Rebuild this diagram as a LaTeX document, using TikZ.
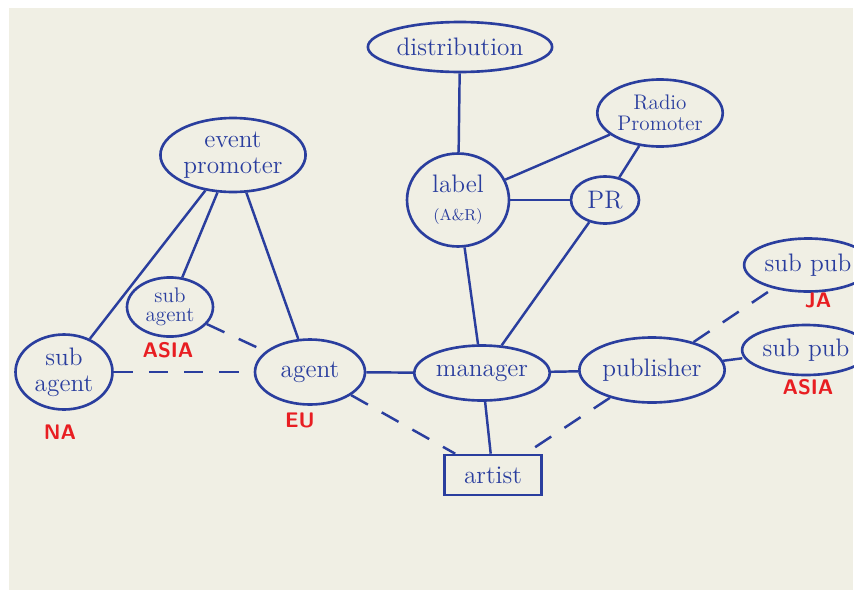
\documentclass[tikz,border=0pt]{standalone}
\usetikzlibrary{shapes.geometric}
\definecolor{ink}{RGB}{42,62,158}
\definecolor{marker}{RGB}{232,30,34}
\definecolor{board}{RGB}{240,239,228}
\tikzset{
  bubble/.style={ellipse, draw=ink, line width=1.5pt, text=ink, font=\Large, align=center, inner sep=1pt},
  boxed/.style={rectangle, draw=ink, line width=1.5pt, text=ink, font=\Large, inner sep=1pt},
  tag/.style={text=marker, font=\large\sffamily\bfseries},
  link/.style={draw=ink, line width=1.4pt},
  loose/.style={link, dash pattern=on 11pt off 9pt}
}
\begin{document}
\begin{tikzpicture}[x=0.02cm, y=0.02cm]
    \useasboundingbox (0,0) rectangle (854,600);
    \fill[white] (0,0) rectangle (854,600);
    \fill[board] (9,10) rectangle (853,592);

    \node[bubble, minimum width=3.36cm, minimum height=1.0cm] (dist) at (460,553) {distribution};
    \node[bubble, minimum width=2.2cm, minimum height=1.34cm, font=\large] (radio) at (660,487) {Radio\\[-2pt]Promoter};
    \node[bubble, minimum width=2.86cm, minimum height=1.48cm, font=\Large] (event) at (233,445) {event\\[-3pt]promoter};
    \node[bubble, minimum width=2.04cm, minimum height=1.86cm] (label) at (458,400) {label\\[-2pt]{\small (A\&R)}};
    \node[bubble, minimum width=1.36cm, minimum height=0.94cm] (pr) at (605,400) {PR};
    \node[bubble, minimum width=1.72cm, minimum height=1.16cm, font=\large] (subasia) at (170,293) {sub\\[-3pt]agent};
    \node[bubble, minimum width=1.94cm, minimum height=1.5cm] (subna) at (64,228) {sub\\[-3pt]agent};
    \node[bubble, minimum width=2.2cm, minimum height=1.3cm] (agent) at (310,228) {agent};
    \node[bubble, minimum width=2.5cm, minimum height=1.1cm] (manager) at (482,227) {manager};
    \node[bubble, minimum width=2.5cm, minimum height=1.3cm] (publisher) at (652,230) {publisher};
    \node[bubble, minimum width=2.0cm, minimum height=1.06cm] (subja) at (808,335) {sub pub};
    \node[bubble, minimum width=2.0cm, minimum height=1.0cm] (subpasia) at (806,250) {sub pub};
    \node[boxed, minimum width=1.94cm, minimum height=0.8cm] (artist) at (493,125) {artist};

    \node[tag] (tasia) at (168,250) {ASIA};
    \node[tag] (tna) at (60,168) {NA};
    \node[tag] (teu) at (300,180) {EU};
    \node[tag] (tja) at (818,300) {JA};
    \node[tag] (tpasia) at (808,213) {ASIA};

    \draw[link] (dist) -- (label);
    \draw[link] (radio) -- (label);
    \draw[link] (radio) -- (pr);
    \draw[link] (label) -- (pr);
    \draw[link] (label) -- (manager);
    \draw[link] (pr) -- (manager);
    \draw[link] (event) -- (subna);
    \draw[link] (event) -- (subasia);
    \draw[link] (event) -- (agent);
    \draw[link] (agent) -- (manager);
    \draw[link] (manager) -- (publisher);
    \draw[link] (manager) -- (artist);
    \draw[loose] (subasia) -- (agent);
    \draw[loose] (subna) -- (agent);
    \draw[loose] (agent) -- (artist);
    \draw[loose] (publisher) -- (artist);
    \draw[loose] (publisher) -- (subja);
    \draw[loose] (publisher) -- (subpasia);
\end{tikzpicture}
\end{document}
